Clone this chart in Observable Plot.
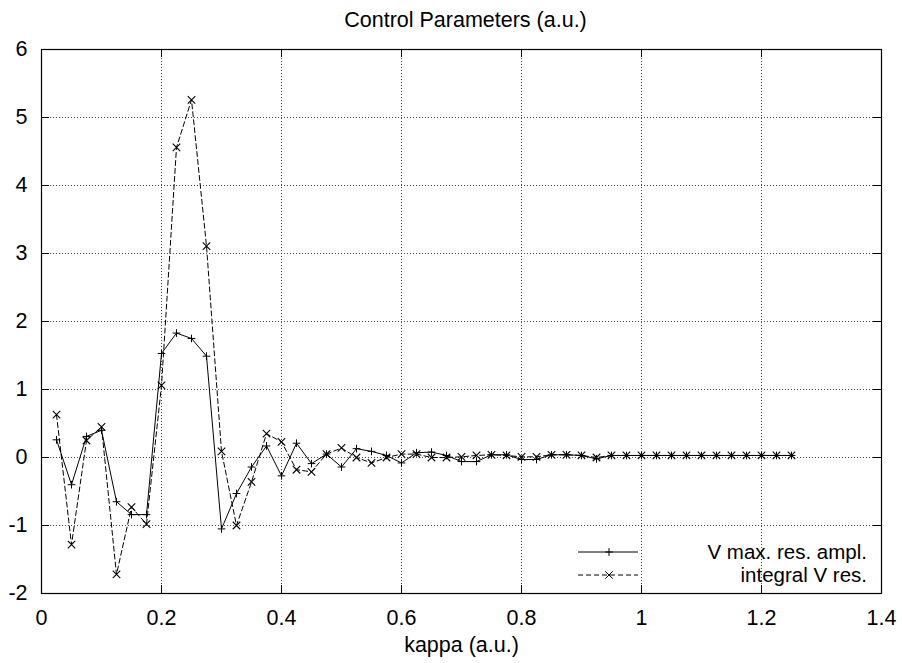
<!DOCTYPE html>
<html>
<head>
<meta charset="utf-8">
<script src="https://cdn.jsdelivr.net/npm/d3@7"></script>
<script src="https://cdn.jsdelivr.net/npm/@observablehq/plot@0.6"></script>
<style>
  html, body { margin: 0; padding: 0; background: #fff; }
  #wrap { position: relative; width: 902px; height: 663px; font-family: "Liberation Sans", Arial, sans-serif; }
  #legend { position: absolute; left: 0; top: 0; pointer-events: none; }
</style>
</head>
<body>
<div id="wrap"></div>
<script>
const titleText = "Control Parameters (a.u.)";
const xLabel = "kappa (a.u.)";
const seriesNames = ["V max. res. ampl.", "integral V res."];

const kappa = [0.025, 0.05, 0.075, 0.1, 0.125, 0.15, 0.175, 0.2, 0.225, 0.25,
  0.275, 0.3, 0.325, 0.35, 0.375, 0.4, 0.425, 0.45, 0.475, 0.5,
  0.525, 0.55, 0.575, 0.6, 0.625, 0.65, 0.675, 0.7, 0.725, 0.75,
  0.775, 0.8, 0.825, 0.85, 0.875, 0.9, 0.925, 0.95, 0.975, 1.0,
  1.025, 1.05, 1.075, 1.1, 1.125, 1.15, 1.175, 1.2, 1.225, 1.25];

const vMax = [0.26, -0.40, 0.31, 0.40, -0.65, -0.84, -0.84, 1.53, 1.83, 1.75,
  1.49, -1.05, -0.53, -0.14, 0.17, -0.27, 0.21, -0.09, 0.05, -0.14,
  0.13, 0.09, 0.03, -0.08, 0.07, 0.08, 0.03, -0.06, -0.06, 0.04,
  0.04, -0.03, -0.03, 0.04, 0.04, 0.03, -0.02, 0.03, 0.03, 0.03,
  0.03, 0.03, 0.03, 0.03, 0.03, 0.03, 0.03, 0.03, 0.03, 0.03];

const integralV = [0.63, -1.28, 0.25, 0.45, -1.72, -0.73, -0.98, 1.06, 4.56, 5.26,
  3.11, 0.09, -1.00, -0.36, 0.35, 0.23, -0.18, -0.21, 0.05, 0.14,
  0.00, -0.08, 0.00, 0.05, 0.05, 0.00, 0.00, 0.01, 0.03, 0.04,
  0.03, 0.01, 0.01, 0.04, 0.04, 0.03, 0.00, 0.03, 0.03, 0.03,
  0.03, 0.03, 0.03, 0.03, 0.03, 0.03, 0.03, 0.03, 0.03, 0.03];

const xTicks = [0, 0.2, 0.4, 0.6, 0.8, 1.0, 1.2, 1.4];
const xTickLabels = ["0", "0.2", "0.4", "0.6", "0.8", "1", "1.2", "1.4"];
const yTicks = [-2, -1, 0, 1, 2, 3, 4, 5, 6];
const yTickLabels = ["-2", "-1", "0", "1", "2", "3", "4", "5", "6"];

const W = 902, H = 663;
const mL = 41, mR = 21, mT = 49, mB = 70;
const innerW = W - mL - mR, innerH = H - mT - mB;
const tickLen = 8;
const fontSize = 21.5;
const legendFontSize = 20.5;
const rPlus = 2.6, rTimes = 3.5;

const dataA = kappa.map((k, i) => ({k, v: vMax[i]}));
const dataB = kappa.map((k, i) => ({k, v: integralV[i]}));

const gridStyle = {stroke: "#000", strokeOpacity: 0.7, strokeDasharray: "1,2", strokeWidth: 1};

const chart = Plot.plot({
  width: W, height: H,
  marginLeft: mL, marginRight: mR, marginTop: mT, marginBottom: mB,
  style: {fontFamily: "'Liberation Sans', Arial, sans-serif", fontSize: fontSize + "px", background: "#fff", color: "#000"},
  x: {domain: [0, 1.4]},
  y: {domain: [-2, 6]},
  marks: [
    Plot.ruleX(xTicks.slice(1, -1), {x: d => d, ...gridStyle}),
    Plot.ruleY(yTicks.slice(1, -1), {y: d => d, ...gridStyle}),
    Plot.tickX(xTicks, {x: d => d, insetTop: innerH - tickLen, stroke: "#000"}),
    Plot.tickX(xTicks, {x: d => d, insetBottom: innerH - tickLen, stroke: "#000"}),
    Plot.tickY(yTicks, {y: d => d, insetRight: innerW - tickLen, stroke: "#000"}),
    Plot.tickY(yTicks, {y: d => d, insetLeft: innerW - tickLen, stroke: "#000"}),
    Plot.axisX({ticks: xTicks, tickSize: 0, tickPadding: 16, tickFormat: (d) => xTickLabels[xTicks.indexOf(d)], label: null, fontSize: fontSize}),
    Plot.axisY({ticks: yTicks, tickSize: 0, tickPadding: 14, tickFormat: (d) => yTickLabels[yTicks.indexOf(d)], label: null, fontSize: fontSize}),
    Plot.frame({stroke: "#000", strokeWidth: 1.2}),
    Plot.line(dataA, {x: "k", y: "v", stroke: "#000", strokeWidth: 1}),
    Plot.line(dataB, {x: "k", y: "v", stroke: "#000", strokeWidth: 1, strokeDasharray: "5,3"}),
    Plot.dot(dataA, {x: "k", y: "v", symbol: "plus", r: rPlus, stroke: "#000", strokeWidth: 1}),
    Plot.dot(dataB, {x: "k", y: "v", symbol: "times", r: rTimes, stroke: "#000", strokeWidth: 1.1}),
    Plot.text([titleText], {frameAnchor: "top", lineAnchor: "middle", dy: -29, dx: 4, text: d => d, fontSize: fontSize, fill: "#000"}),
    Plot.text([xLabel], {frameAnchor: "bottom", lineAnchor: "middle", dy: 52, text: d => d, fontSize: fontSize, fill: "#000"})
  ]
});

const wrap = document.getElementById("wrap");
wrap.appendChild(chart);

// Legend (overlay)
const ns = "http://www.w3.org/2000/svg";
const leg = document.createElementNS(ns, "svg");
leg.setAttribute("id", "legend");
leg.setAttribute("width", W);
leg.setAttribute("height", H);
const rows = [
  {name: seriesNames[0], dash: null, sym: d3.symbolPlus, size: rPlus * rPlus * Math.PI, y: 552},
  {name: seriesNames[1], dash: "5,3", sym: d3.symbolTimes, size: rTimes * rTimes * Math.PI, y: 575}
];
rows.forEach(r => {
  const ln = document.createElementNS(ns, "line");
  ln.setAttribute("x1", 578); ln.setAttribute("x2", 638);
  ln.setAttribute("y1", r.y); ln.setAttribute("y2", r.y);
  ln.setAttribute("stroke", "#000");
  if (r.dash) ln.setAttribute("stroke-dasharray", r.dash);
  leg.appendChild(ln);
  const p = document.createElementNS(ns, "path");
  p.setAttribute("d", d3.symbol(r.sym, r.size)());
  p.setAttribute("transform", `translate(609,${r.y})`);
  p.setAttribute("stroke", "#000");
  p.setAttribute("fill", "none");
  leg.appendChild(p);
  const t = document.createElementNS(ns, "text");
  t.setAttribute("x", 867);
  t.setAttribute("y", r.y);
  t.setAttribute("dy", "0.35em");
  t.setAttribute("text-anchor", "end");
  t.setAttribute("font-size", legendFontSize);
  t.setAttribute("font-family", "'Liberation Sans', Arial, sans-serif");
  t.textContent = r.name;
  leg.appendChild(t);
});
wrap.appendChild(leg);
</script>
</body>
</html>
